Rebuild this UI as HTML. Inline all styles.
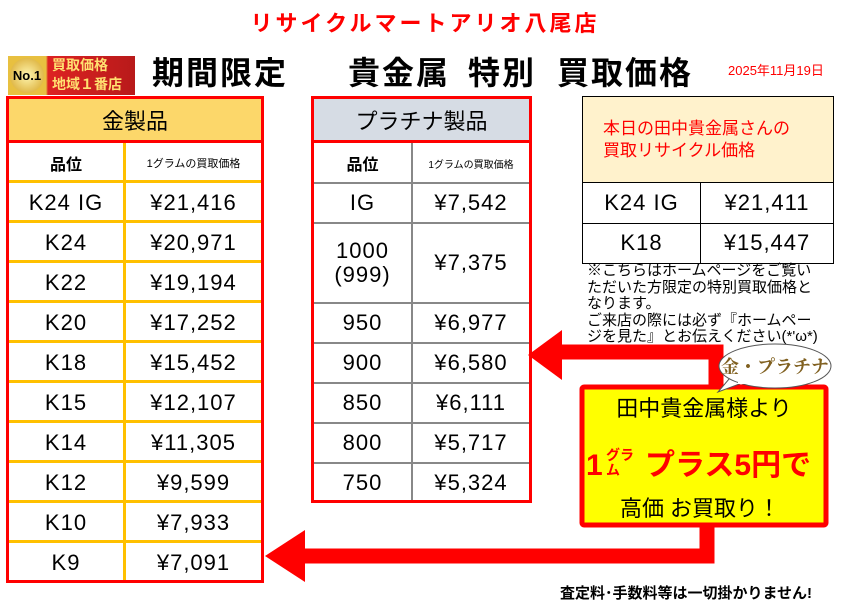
<!DOCTYPE html><html><head><meta charset="utf-8"><style>
body{margin:0;width:859px;height:608px;background:#fff;position:relative;overflow:hidden;font-family:"Liberation Sans","Noto Sans CJK JP",sans-serif;color:#000}
.a{position:absolute}
.c{position:absolute;display:flex;align-items:center;justify-content:center;box-sizing:border-box;white-space:nowrap}
.v{font-size:22px;letter-spacing:1px}
.t{position:absolute;top:48px;font-size:32px;font-weight:bold;white-space:nowrap;letter-spacing:2px}
</style></head><body>
<div class="c" style="left:200px;top:6px;width:450px;height:32px;color:#f00;font-size:22px;font-weight:bold;letter-spacing:3px">リサイクルマートアリオ八尾店</div>
<div class="a" style="left:8px;top:56px;width:127px;height:39px;background:linear-gradient(90deg,#e8c040 0,#e8c040 38px,#d22 40px,#b81a1a)"></div>
<div class="a" style="left:10px;top:58px;width:34px;height:35px;border-radius:50%;background:radial-gradient(#fff6b0,#d4a020);font-size:13px;font-weight:bold;line-height:35px;text-align:center">No.1</div>
<div class="a" style="left:52px;top:56px;color:#ffe070;font-weight:bold;font-size:14px;line-height:19px">買取価格<br>地域１番店</div>
<div class="t" style="left:152px">期間限定</div>
<div class="t" style="left:348px">貴金属</div>
<div class="t" style="left:468px">特別</div>
<div class="t" style="left:557px">買取価格</div>
<div class="a" style="left:728px;top:60px;font-size:13px;color:#f00">2025年11月19日</div>

<div class="a" style="left:6px;top:96px;width:258px;height:487px;box-sizing:border-box;border:3px solid #f00;background:#fff"></div>
<div class="c" style="left:9px;top:99px;width:252px;height:44px;background:#fcd76a;font-size:22px;border-bottom:3px solid #f00">金製品</div>
<div class="a" style="left:123px;top:143px;width:3px;height:437px;background:#ffc000"></div>
<div class="c" style="left:9px;top:143px;width:114px;height:40px;font-size:16px;font-weight:bold">品位</div>
<div class="c" style="left:126px;top:143px;width:135px;height:40px;font-size:11px">1グラムの買取価格</div>
<div id="g"></div>

<div class="a" style="left:311px;top:96px;width:221px;height:407px;box-sizing:border-box;border:3px solid #f00;background:#fff"></div>
<div class="c" style="left:314px;top:99px;width:215px;height:44px;background:#d6dce4;font-size:22px;border-bottom:3px solid #f00">プラチナ製品</div>
<div class="a" style="left:411px;top:143px;width:2px;height:357px;background:#888"></div>
<div class="c" style="left:314px;top:143px;width:97px;height:40px;font-size:16px;font-weight:bold">品位</div>
<div class="c" style="left:413px;top:143px;width:116px;height:40px;font-size:10px">1グラムの買取価格</div>
<div id="p"></div>

<div class="a" style="left:582px;top:96px;width:252px;height:168px;box-sizing:border-box;border:1px solid #000"></div>
<div class="c" style="left:583px;top:97px;width:250px;height:86px;background:#fff2cc;color:#f00;font-size:17px;line-height:22px;white-space:normal;text-align:left;padding-left:20px;justify-content:flex-start;border-bottom:1px solid #000">本日の田中貴金属さんの<br>買取リサイクル価格</div>
<div class="a" style="left:700px;top:183px;width:1px;height:80px;background:#000"></div>
<div class="a" style="left:583px;top:223px;width:250px;height:1px;background:#000"></div>
<div class="c v" style="left:583px;top:183px;width:117px;height:40px">K24 IG</div>
<div class="c v" style="left:701px;top:183px;width:132px;height:40px">¥21,411</div>
<div class="c v" style="left:583px;top:223px;width:117px;height:40px">K18</div>
<div class="c v" style="left:701px;top:223px;width:132px;height:40px">¥15,447</div>
<div class="a" style="left:587px;top:263px;width:236px;font-size:15px;line-height:16.5px;word-break:break-all">※こちらはホームページをご覧いただいた方限定の特別買取価格となります。<br>ご来店の際には必ず『ホームページを見た』とお伝えください(*'ω*)</div>

<svg class="a" style="left:0;top:0" width="859" height="608">
<path d="M716 385 V352 H558" fill="none" stroke="#f00" stroke-width="15"/>
<polygon points="528,355 562,330 562,380" fill="#f00"/>
<path d="M707 527 V556 H300" fill="none" stroke="#f00" stroke-width="15"/>
<polygon points="265,556 305,530 305,582" fill="#f00"/>
<rect x="582" y="387" width="244" height="138" fill="#ff0" stroke="#f00" stroke-width="5" rx="2"/>
<path d="M735 372 L718 392 L750 380 Z" fill="#fff" stroke="#555"/>
<ellipse cx="775" cy="366" rx="56" ry="22" fill="#fff" stroke="#555"/>
<rect x="738" y="376" width="20" height="8" fill="#fff"/>
<text x="775" y="373" text-anchor="middle" font-size="18" font-weight="bold" fill="#806020" font-family="Liberation Serif,Noto Serif CJK SC,serif">金・プラチナ</text>
<text x="704" y="416" text-anchor="middle" font-size="22" font-family="Liberation Sans,Noto Sans CJK JP,sans-serif">田中貴金属様より</text>
<text x="586" y="475" font-size="30" font-weight="bold" fill="#f00" font-family="Liberation Sans,Noto Sans CJK JP,sans-serif">1</text>
<text x="606" y="460" font-size="14" font-weight="bold" fill="#f00" font-family="Liberation Sans,Noto Sans CJK JP,sans-serif">グラ</text>
<text x="606" y="475" font-size="14" font-weight="bold" fill="#f00" font-family="Liberation Sans,Noto Sans CJK JP,sans-serif">ム</text>
<text x="645" y="475" font-size="30" font-weight="bold" fill="#f00" font-family="Liberation Sans,Noto Sans CJK JP,sans-serif">プラス5円で</text>
<text x="700" y="516" text-anchor="middle" font-size="22" font-family="Liberation Sans,Noto Sans CJK JP,sans-serif">高価 お買取り！</text>
</svg>
<div class="a" style="left:560px;top:582px;font-size:15px;font-weight:bold;white-space:nowrap">査定料･手数料等は一切掛かりません!</div>

<script>
var g=[["K24 IG","¥21,416"],["K24","¥20,971"],["K22","¥19,194"],["K20","¥17,252"],["K18","¥15,452"],["K15","¥12,107"],["K14","¥11,305"],["K12","¥9,599"],["K10","¥7,933"],["K9","¥7,091"]];
var h="";
for(var i=0;i<g.length;i++){var y=183+i*40;
h+='<div class="a" style="left:9px;top:'+(y-3)+'px;width:252px;height:3px;background:#ffc000"></div>';
h+='<div class="c v" style="left:9px;top:'+y+'px;width:114px;height:40px">'+g[i][0]+'</div>';
h+='<div class="c v" style="left:126px;top:'+y+'px;width:135px;height:40px">'+g[i][1]+'</div>';}
document.getElementById('g').innerHTML=h;
var p=[["IG","¥7,542",40],["1000<br>(999)","¥7,375",80],["950","¥6,977",40],["900","¥6,580",40],["850","¥6,111",40],["800","¥5,717",40],["750","¥5,324",40]];
h="";var y=183;
for(var i=0;i<p.length;i++){
h+='<div class="a" style="left:314px;top:'+(y-1)+'px;width:215px;height:2px;background:#888"></div>';
h+='<div class="c v" style="left:314px;top:'+y+'px;width:97px;height:'+p[i][2]+'px;white-space:normal;text-align:center;line-height:24px">'+p[i][0]+'</div>';
h+='<div class="c v" style="left:413px;top:'+y+'px;width:116px;height:'+p[i][2]+'px">'+p[i][1]+'</div>';y+=p[i][2];}
document.getElementById('p').innerHTML=h;
</script>
</body></html>
